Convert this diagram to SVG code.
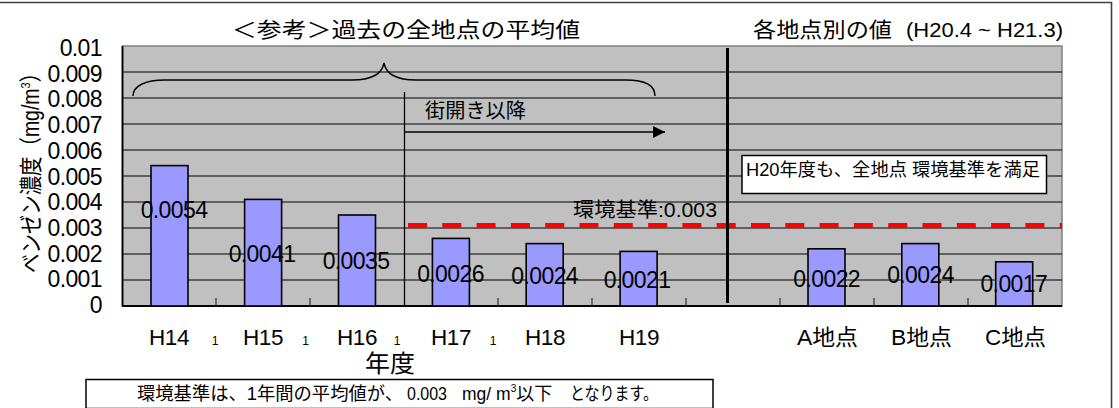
<svg xmlns="http://www.w3.org/2000/svg" width="1119" height="408" viewBox="0 0 1119 408">
<style>
text{font-family:"Liberation Sans","Noto Sans CJK JP",sans-serif;fill:#000}
.bar{fill:#9999FF;stroke:#000;stroke-width:1.6}
.grid{stroke:#000;stroke-width:1}
.tick{stroke:#333;stroke-width:1.2}
.val{font-size:23px;letter-spacing:-0.6px;text-anchor:middle}
.ylab{font-size:23px;letter-spacing:-0.6px;text-anchor:end}
.xlab{font-size:22.5px;letter-spacing:-0.4px;text-anchor:middle}
.fn{font-size:12px;text-anchor:middle}
</style>
<defs>
<marker id="ah" viewBox="0 0 12 12" refX="12" refY="6" markerWidth="12" markerHeight="12" markerUnits="userSpaceOnUse" orient="auto">
<path d="M0,0 L12,6 L0,12 Z" fill="#000"/>
</marker>
</defs>
<rect width="1119" height="408" fill="#fff"/>
<!-- outer frame -->
<path d="M0,2.5 H1111.5 V408" fill="none" stroke="#404040" stroke-width="1.6"/>

<!-- plot area -->
<g id="plot">
<rect x="122.5" y="46" width="939.5" height="260" fill="#C0C0C0" stroke="#808080" stroke-width="1.5"/>
<g class="grid">
<line x1="122.5" y1="72" x2="1062" y2="72"/>
<line x1="122.5" y1="98" x2="1062" y2="98"/>
<line x1="122.5" y1="124" x2="1062" y2="124"/>
<line x1="122.5" y1="150" x2="1062" y2="150"/>
<line x1="122.5" y1="176" x2="1062" y2="176"/>
<line x1="122.5" y1="202" x2="1062" y2="202"/>
<line x1="122.5" y1="228" x2="1062" y2="228"/>
<line x1="122.5" y1="254" x2="1062" y2="254"/>
<line x1="122.5" y1="280" x2="1062" y2="280"/>
</g>
<line x1="122.5" y1="46" x2="122.5" y2="306" stroke="#000" stroke-width="1.8"/>
<line x1="122" y1="306" x2="1062" y2="306" stroke="#000" stroke-width="1.8"/>
<g class="tick">
<line x1="216" y1="298" x2="216" y2="306"/>
<line x1="310" y1="298" x2="310" y2="306"/>
<line x1="498" y1="298" x2="498" y2="306"/>
<line x1="592" y1="298" x2="592" y2="306"/>
<line x1="686" y1="298" x2="686" y2="306"/>
<line x1="780" y1="298" x2="780" y2="306"/>
<line x1="874" y1="298" x2="874" y2="306"/>
<line x1="968" y1="298" x2="968" y2="306"/>
</g>
</g>

<!-- y axis labels -->
<g id="yaxis">
<text class="ylab" x="102" y="56">0.01</text>
<text class="ylab" x="102" y="81.7">0.009</text>
<text class="ylab" x="102" y="107.4">0.008</text>
<text class="ylab" x="102" y="133.1">0.007</text>
<text class="ylab" x="102" y="158.8">0.006</text>
<text class="ylab" x="102" y="184.5">0.005</text>
<text class="ylab" x="102" y="210.2">0.004</text>
<text class="ylab" x="102" y="235.9">0.003</text>
<text class="ylab" x="102" y="261.6">0.002</text>
<text class="ylab" x="102" y="287.3">0.001</text>
<text class="ylab" x="102" y="313">0</text>
<text transform="translate(39,168) rotate(-90)" font-size="23" text-anchor="middle" textLength="210" lengthAdjust="spacingAndGlyphs">ベンゼン濃度（mg/m<tspan font-size="13" dy="-9">3</tspan><tspan dy="9">）</tspan></text>
</g>

<!-- standard line -->
<g id="standard">
<line x1="408" y1="225.5" x2="1062" y2="225.5" stroke="#FF0000" stroke-width="5" stroke-dasharray="19 15.3"/>
<text x="573" y="217" font-size="20" textLength="144" lengthAdjust="spacingAndGlyphs">環境基準:0.003</text>
</g>

<!-- bars -->
<g id="bar-H14"><rect class="bar" x="151" y="165.6" width="37" height="140.4"/><text class="val" x="174" y="218">0.0054</text></g>
<g id="bar-H15"><rect class="bar" x="244.6" y="199.4" width="37" height="106.6"/><text class="val" x="262" y="262">0.0041</text></g>
<g id="bar-H16"><rect class="bar" x="338.5" y="215" width="37" height="91"/><text class="val" x="356" y="269">0.0035</text></g>
<g id="bar-H17"><rect class="bar" x="432.4" y="238.4" width="37" height="67.6"/><text class="val" x="450.5" y="282">0.0026</text></g>
<g id="bar-H18"><rect class="bar" x="526.2" y="243.6" width="37" height="62.4"/><text class="val" x="544.7" y="284">0.0024</text></g>
<g id="bar-H19"><rect class="bar" x="620.1" y="251.4" width="37" height="54.6"/><text class="val" x="637" y="288">0.0021</text></g>
<g id="bar-A"><rect class="bar" x="808" y="248.8" width="37" height="57.2"/><text class="val" x="826.7" y="287">0.0022</text></g>
<g id="bar-B"><rect class="bar" x="901.8" y="243.6" width="37" height="62.4"/><text class="val" x="920.5" y="283">0.0024</text></g>
<g id="bar-C"><rect class="bar" x="995.7" y="261.8" width="37" height="44.2"/><text class="val" x="1013.8" y="292">0.0017</text></g>

<!-- separator lines -->
<g id="separators">
<line x1="404.5" y1="92" x2="404.5" y2="306" stroke="#000" stroke-width="1.3"/>
<line x1="727.5" y1="48" x2="727.5" y2="303" stroke="#000" stroke-width="3"/>
</g>

<!-- connectors -->
<g id="connectors" fill="none" stroke="#000">
<path d="M133,96 C133,86 145,80 165,80 L352,80 C372,80 382,74 384,63 C386,74 396,80 416,80 L626,80 C646,80 655,86 655,96" stroke-width="1.4"/>
<line x1="404.5" y1="132" x2="665" y2="132" stroke-width="1.5" marker-end="url(#ah)"/>
</g>
<text x="425" y="118" font-size="20" textLength="101" lengthAdjust="spacingAndGlyphs">街開き以降</text>

<!-- titles -->
<text x="232" y="37" font-size="21" textLength="348" lengthAdjust="spacingAndGlyphs">＜参考＞過去の全地点の平均値</text>
<text x="753" y="37" font-size="21" textLength="139" lengthAdjust="spacingAndGlyphs">各地点別の値</text>
<text x="906" y="37" font-size="20" textLength="157" lengthAdjust="spacingAndGlyphs">(H20.4 ~ H21.3)</text>

<!-- H20 box -->
<g id="note-h20">
<rect x="742" y="155.5" width="304.5" height="38" fill="#fff" stroke="#000" stroke-width="1.5"/>
<text x="746" y="176" font-size="18" textLength="294" lengthAdjust="spacingAndGlyphs">H20年度も、全地点 環境基準を満足</text>
</g>

<!-- x labels -->
<g id="xaxis">
<text class="xlab" x="169" y="345">H14</text>
<text class="xlab" x="263" y="345">H15</text>
<text class="xlab" x="357" y="345">H16</text>
<text class="xlab" x="451" y="345">H17</text>
<text class="xlab" x="545" y="345">H18</text>
<text class="xlab" x="639" y="345">H19</text>
<text x="797" y="345" font-size="22" textLength="61" lengthAdjust="spacingAndGlyphs">A地点</text>
<text x="891" y="345" font-size="22" textLength="61" lengthAdjust="spacingAndGlyphs">B地点</text>
<text x="985" y="345" font-size="22" textLength="61" lengthAdjust="spacingAndGlyphs">C地点</text>
<text class="fn" x="215" y="345">1</text>
<text class="fn" x="305.5" y="345">1</text>
<text class="fn" x="397" y="345">1</text>
<text class="fn" x="493" y="345">1</text>
<text x="365" y="372" font-size="24" textLength="50" lengthAdjust="spacingAndGlyphs">年度</text>
</g>

<!-- bottom note -->
<g id="note-bottom">
<rect x="86" y="379.5" width="627" height="29" fill="#fff" stroke="#000" stroke-width="1.5"/>
<text x="137" y="400" font-size="18" textLength="266" lengthAdjust="spacingAndGlyphs">環境基準は、1年間の平均値が、</text>
<text x="407" y="400" font-size="17.5" textLength="40" lengthAdjust="spacingAndGlyphs">0.003</text>
<text x="462" y="400" font-size="17.5">mg/ m<tspan font-size="10" dy="-8">3</tspan><tspan font-size="18" dy="8">以下</tspan></text>
<text x="570" y="400" font-size="18" textLength="88" lengthAdjust="spacingAndGlyphs">となります。</text>
</g>
</svg>
